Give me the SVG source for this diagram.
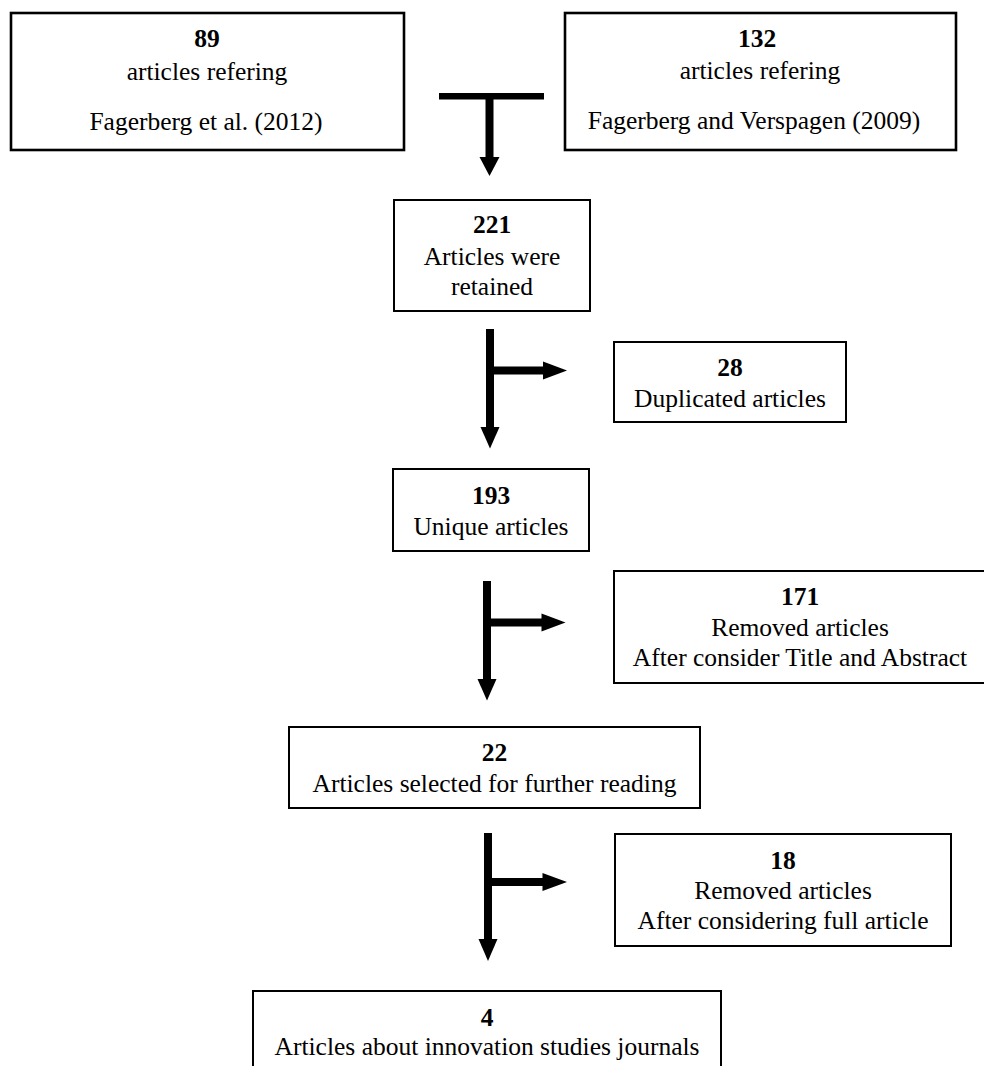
<svg xmlns="http://www.w3.org/2000/svg" width="984" height="1066" viewBox="0 0 984 1066">
<style>
.box{fill:#fff;stroke:#000;stroke-width:2}
.boxt{fill:#fff;stroke:#000;stroke-width:2.6}
text{font-family:'Liberation Serif','DejaVu Serif',serif;font-size:25.5px;fill:#000;text-anchor:middle}
.n{font-weight:bold}
.c{fill:#000;stroke:none}
</style>
<rect width="984" height="1066" fill="#fff"/>
<g id="connectors">
  <rect class="c" x="439" y="93" width="105" height="6.5"/>
  <rect class="c" x="485.5" y="96" width="8" height="62"/>
  <polygon class="c" points="479.5,157 499.5,157 489.5,176"/>

  <rect class="c" x="486" y="329" width="8" height="99"/>
  <polygon class="c" points="480.5,427 499.5,427 490,448.5"/>
  <rect class="c" x="490" y="366.5" width="54" height="8"/>
  <polygon class="c" points="543,361.5 543,379.5 567,370.5"/>

  <rect class="c" x="483" y="581" width="8" height="99"/>
  <polygon class="c" points="477.5,679 496.5,679 487,700.5"/>
  <rect class="c" x="487" y="618.5" width="55" height="8"/>
  <polygon class="c" points="541.5,613.5 541.5,631.5 565.5,622.5"/>

  <rect class="c" x="484" y="833" width="8" height="107"/>
  <polygon class="c" points="478.5,939 497.5,939 488,961"/>
  <rect class="c" x="488" y="878" width="55" height="8"/>
  <polygon class="c" points="542.5,873 542.5,891 567,882"/>
</g>
<g id="n89">
  <rect class="boxt" x="11" y="13" width="393" height="137"/>
  <text class="n" x="207" y="46.5">89</text>
  <text x="207" y="79.5">articles refering</text>
  <text x="206" y="129.5">Fagerberg et al. (2012)</text>
</g>
<g id="n132">
  <rect class="boxt" x="565" y="13" width="391" height="137"/>
  <text class="n" x="757" y="46.5">132</text>
  <text x="760" y="79">articles refering</text>
  <text x="754" y="129">Fagerberg and Verspagen (2009)</text>
</g>
<g id="n221">
  <rect class="box" x="394" y="200" width="196" height="111"/>
  <text class="n" x="492" y="233">221</text>
  <text x="492" y="265">Articles were</text>
  <text x="492" y="295">retained</text>
</g>
<g id="n28">
  <rect class="box" x="614" y="342" width="232" height="80"/>
  <text class="n" x="730" y="376">28</text>
  <text x="730" y="406.5">Duplicated articles</text>
</g>
<g id="n193">
  <rect class="box" x="393" y="469" width="196" height="82"/>
  <text class="n" x="491" y="504">193</text>
  <text x="491" y="535">Unique articles</text>
</g>
<g id="n171">
  <rect class="box" x="614" y="571" width="374" height="112"/>
  <text class="n" x="800" y="605">171</text>
  <text x="800" y="636">Removed articles</text>
  <text x="800" y="666">After consider Title and Abstract</text>
</g>
<g id="n22">
  <rect class="box" x="289" y="727" width="411" height="81"/>
  <text class="n" x="494.5" y="761">22</text>
  <text x="494.5" y="791.5">Articles selected for further reading</text>
</g>
<g id="n18">
  <rect class="box" x="615" y="834" width="336" height="112"/>
  <text class="n" x="783" y="869">18</text>
  <text x="783" y="899">Removed articles</text>
  <text x="783" y="929">After considering full article</text>
</g>
<g id="n4">
  <rect class="box" x="253" y="991" width="468" height="90"/>
  <text class="n" x="487" y="1026">4</text>
  <text x="487" y="1055">Articles about innovation studies journals</text>
</g>
</svg>
